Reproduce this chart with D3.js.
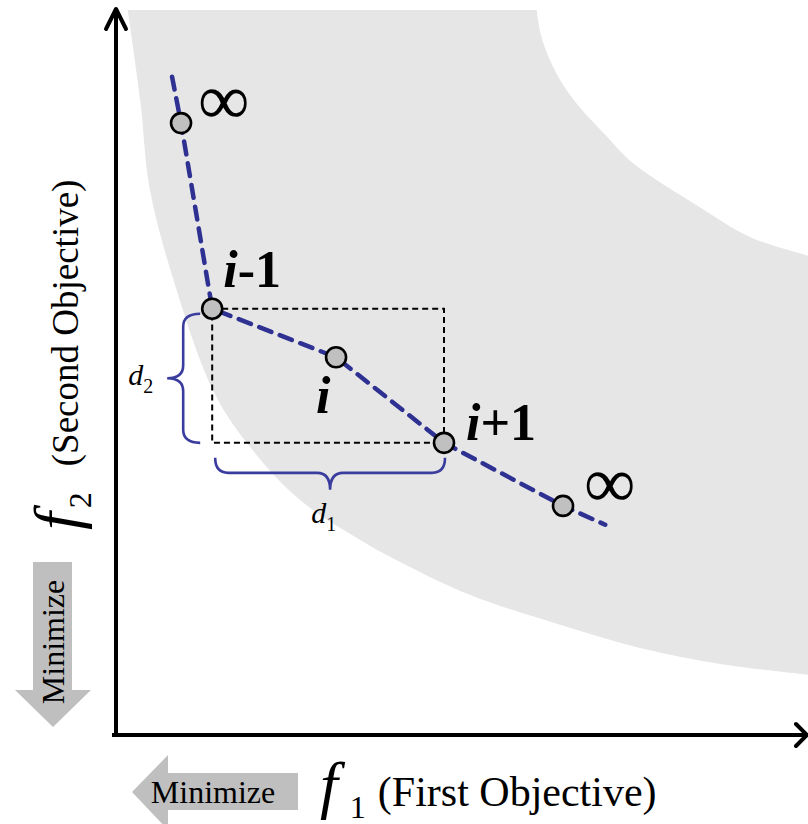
<!DOCTYPE html>
<html>
<head>
<meta charset="utf-8">
<script src="https://cdn.jsdelivr.net/npm/d3@7"></script>
<style>
  html, body { margin: 0; padding: 0; background: #fff; }
  svg { display: block; }
  text { font-family: "Liberation Serif", "Times New Roman", serif; fill: #000; }
</style>
</head>
<body>
<svg id="chart" width="808" height="824"></svg>
<script>
// ---- data (objective space units 0..100) ----
const f1Values = [9.4, 13.9, 31.8, 47.4, 64.6];
const f2Values = [84.4, 58.8, 52.1, 40.3, 31.6];
const pointLabels = ["∞", "i-1", "i", "i+1", "∞"];
const frontStart = [8.1, 90.8];
const frontEnd = [70.7, 29.0];
const regionLower = [[1.7,100],[3.5,87.6],[4.9,75.2],[8.3,62.8],[14.0,47.6],[18.9,40.3],[26.6,32.4],[35.3,26.9],[41.0,23.9],[51.2,19.3],[64.2,15.2],[75.7,12.0],[87.3,9.8],[100,8.3],[103.2,7.9]];
const regionUpper = [[60.8,100],[61.4,96.6],[62.7,93.1],[64.6,89.7],[67.1,86.5],[70.7,82.8],[74.7,78.9],[84.4,72.8],[91.6,68.7],[100,66.1],[103.2,65.2]];
const axisLabels = { x: ["f", "1", "(First Objective)"], y: ["f", "2", "(Second Objective)"] };
const distLabels = ["d", "1", "d", "2"];
const minimizeText = "Minimize";

// ---- scales ----
const svg = d3.select("#chart");
const x = d3.scaleLinear().domain([0, 100]).range([116, 808]);
const y = d3.scaleLinear().domain([0, 100]).range([735, 10]);

const pts = f1Values.map((v, i) => ({ f1: v, f2: f2Values[i], label: pointLabels[i] }));
const P = pts.map(p => [x(p.f1), y(p.f2)]);

// ---- shaded region ----
const curve = d3.line().x(d => x(d[0])).y(d => y(d[1])).curve(d3.curveCatmullRom.alpha(0.5));
const lowerPath = curve(regionLower);
const upperPath = curve(regionUpper.slice().reverse()).replace(/^M/, "L");
svg.append("path").attr("d", lowerPath + upperPath + "Z").attr("fill", "#e6e6e6");

// ---- axes ----
const ax = svg.append("g").attr("stroke", "#000").attr("stroke-width", 4).attr("fill", "none");
ax.append("line").attr("x1", x(0)).attr("y1", y(0) + 2).attr("x2", x(0)).attr("y2", y(100) - 1);
ax.append("line").attr("x1", x(0) - 4).attr("y1", y(0)).attr("x2", x(100) - 1).attr("y2", y(0));
ax.append("path").attr("stroke-linecap", "round").attr("stroke-linejoin", "round")
  .attr("d", `M${x(0) - 10},${y(100) + 19} L${x(0)},${y(100) - 1} L${x(0) + 10},${y(100) + 19}`);
ax.append("path").attr("stroke-linecap", "round").attr("stroke-linejoin", "round")
  .attr("d", `M${x(100) - 12},${y(0) - 11} L${x(100) - 1},${y(0)} L${x(100) - 12},${y(0) + 11}`);

// ---- dashed cuboid ----
svg.append("rect")
  .attr("x", P[1][0]).attr("y", P[1][1])
  .attr("width", P[3][0] - P[1][0]).attr("height", P[3][1] - P[1][1])
  .attr("fill", "none").attr("stroke", "#000").attr("stroke-width", 2)
  .attr("stroke-dasharray", "6,4");

// ---- front line ----
const frontLine = d3.line().x(d => x(d[0])).y(d => y(d[1]));
svg.append("path")
  .attr("d", frontLine([frontStart, ...pts.map(p => [p.f1, p.f2]), frontEnd]))
  .attr("fill", "none").attr("stroke", "#2e3192").attr("stroke-width", 4.5)
  .attr("stroke-dasharray", "13,9").attr("stroke-linecap", "round");

// ---- braces ----
const braceColor = "#3a3d9e";
function vBrace(xe, xb, xt, y0, y1) {
  const ym = (y0 + y1) / 2, r = 13;
  return `M${xe},${y0} Q${xb},${y0} ${xb},${y0 + r} L${xb},${ym - r} Q${xb},${ym} ${xt},${ym}` +
         ` Q${xb},${ym} ${xb},${ym + r} L${xb},${y1 - r} Q${xb},${y1} ${xe},${y1}`;
}
function hBrace(ye, yb, yt, x0, x1) {
  const xm = (x0 + x1) / 2, r = 13;
  return `M${x0},${ye} Q${x0},${yb} ${x0 + r},${yb} L${xm - r},${yb} Q${xm},${yb} ${xm},${yt}` +
         ` Q${xm},${yb} ${xm + r},${yb} L${x1 - r},${yb} Q${x1},${yb} ${x1},${ye}`;
}
svg.append("path").attr("d", vBrace(P[1][0] - 12, P[1][0] - 29, P[1][0] - 45, P[1][1] + 5, P[3][1]))
  .attr("fill", "none").attr("stroke", braceColor).attr("stroke-width", 2.6);
svg.append("path").attr("d", hBrace(P[3][1] + 15, P[3][1] + 30, P[3][1] + 47, P[1][0] + 3, P[3][0] + 1))
  .attr("fill", "none").attr("stroke", braceColor).attr("stroke-width", 2.6);

// ---- points ----
svg.selectAll("circle.pt").data(P).join("circle")
  .attr("class", "pt").attr("cx", d => d[0]).attr("cy", d => d[1]).attr("r", 10)
  .attr("fill", "#c0c0c0").attr("stroke", "#000").attr("stroke-width", 2.6);

// ---- point labels ----
function idxLabel(sel, str) {
  sel.attr("font-weight", "bold").attr("font-size", 52);
  sel.append("tspan").attr("font-style", "italic").text(str[0]);
  if (str.length > 1) sel.append("tspan").text(str.slice(1));
}
// infinity labels
[[0, 17, 1], [4, 21, 1]].forEach(([i, dx, dy]) => {
  svg.append("text").attr("x", P[i][0] + dx).attr("y", P[i][1] + dy)
    .attr("font-size", 72).text(pts[i].label);
});
idxLabel(svg.append("text").attr("x", P[1][0] + 11).attr("y", P[1][1] - 22), pts[1].label);
idxLabel(svg.append("text").attr("x", P[2][0] - 20).attr("y", P[2][1] + 56), pts[2].label);
idxLabel(svg.append("text").attr("x", P[3][0] + 22).attr("y", P[3][1] - 3), pts[3].label);

// ---- distance labels ----
function dLabel(px, py, d, sub) {
  const t = svg.append("text").attr("x", px).attr("y", py).attr("font-size", 30);
  t.append("tspan").attr("font-style", "italic").text(d);
  t.append("tspan").attr("font-size", 20).attr("dy", 8).text(sub);
}
dLabel(P[1][0] + 99, P[3][1] + 80, distLabels[0], distLabels[1]);
dLabel(P[1][0] - 84, P[1][1] + 76, distLabels[2], distLabels[3]);

// ---- axis titles ----
const xt = svg.append("text").attr("x", 320).attr("y", 806);
xt.append("tspan").attr("font-style", "italic").attr("font-size", 64).text(axisLabels.x[0]);
xt.append("tspan").attr("font-size", 32).attr("dy", 12).attr("dx", 12).text(axisLabels.x[1]);
xt.append("tspan").attr("font-size", 42).attr("dy", -12).attr("dx", 12).text(axisLabels.x[2]);

const yt = svg.append("text").attr("transform", "translate(78,530) rotate(-90)");
yt.append("tspan").attr("font-style", "italic").attr("font-size", 64).text(axisLabels.y[0]);
yt.append("tspan").attr("font-size", 32).attr("dy", 13).attr("dx", 4).text(axisLabels.y[1]);
yt.append("tspan").attr("font-size", 37).attr("dy", -13).attr("dx", 26).text(axisLabels.y[2]);

// ---- minimize arrows ----
const arrowFill = "#bfbfbf";
svg.append("path").attr("fill", arrowFill)
  .attr("d", "M33,562 L72,562 L72,690 L91,690 L53,727 L15,690 L33,690 Z");
svg.append("text").attr("transform", "translate(64,642) rotate(-90)")
  .attr("text-anchor", "middle").attr("font-size", 32).text(minimizeText);
svg.append("path").attr("fill", arrowFill)
  .attr("d", "M298,773 L298,810 L168,810 L168,830 L132,792 L168,755 L168,773 Z");
svg.append("text").attr("x", 213).attr("y", 803)
  .attr("text-anchor", "middle").attr("font-size", 32).text(minimizeText);
</script>
</body>
</html>
